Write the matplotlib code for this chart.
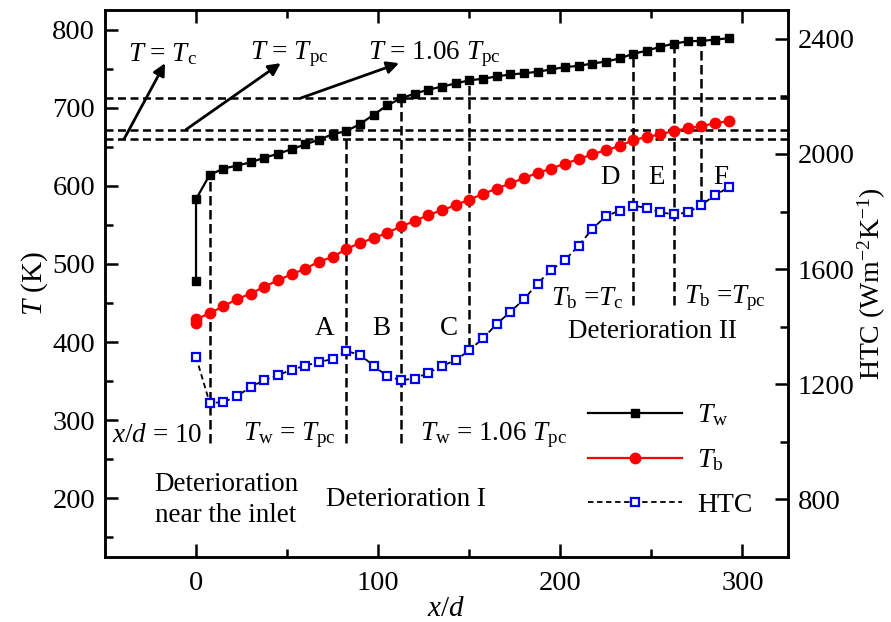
import matplotlib
matplotlib.use("Agg")
import matplotlib.pyplot as plt
from matplotlib.lines import Line2D

plt.rcParams['font.family'] = ['Liberation Serif', 'DejaVu Serif']
plt.rcParams['mathtext.fontset'] = 'custom'
plt.rcParams['mathtext.rm'] = 'Liberation Serif'
plt.rcParams['mathtext.it'] = 'Liberation Serif:italic'
plt.rcParams['mathtext.bf'] = 'Liberation Serif:bold'

# measuring positions (x/d)
xd = [0, 7.5, 15, 22.5, 30, 37.5, 45, 52.5, 60, 67.5, 75, 82.5, 90, 97.5, 105,
      112.5, 120, 127.5, 135, 142.5, 150, 157.5, 165, 172.5, 180, 187.5, 195,
      202.5, 210, 217.5, 225, 232.5, 240, 247.5, 255, 262.5, 270, 277.5, 285, 292.5]

# wall temperature (K), two readings at the inlet
tw_x = [0] + xd
tw = [478, 583, 614, 622, 626, 630, 636, 641, 647, 653, 659, 666, 670, 679, 691,
      703, 712, 718, 723, 727, 731, 735, 737, 740, 742.5, 744, 746, 749, 752,
      753.5, 756.5, 759, 763, 769, 773, 778, 782, 785, 785.5, 787, 789]

# bulk temperature (K)
tb_x = [0] + xd
tb = [425, 429, 437, 446, 455, 462, 471, 479, 487, 494, 503, 509, 519, 527, 533,
      540, 548, 555, 562.5, 569, 575, 582.5, 589.5, 596.5, 603, 610, 616.5, 622,
      628.5, 634, 640.5, 645.5, 651, 658.5, 662.5, 666, 670.5, 673.5, 676.5,
      680, 683]

# heat transfer coefficient (W m-2 K-1)
htc = [1295, 1135, 1138, 1158, 1191, 1214, 1231, 1251, 1264, 1278, 1287, 1315,
       1303, 1264, 1228, 1214, 1220, 1239, 1264, 1283, 1318, 1359, 1409, 1451,
       1495, 1550, 1597, 1631, 1681, 1739, 1784, 1803, 1820, 1813, 1797, 1790,
       1797, 1823, 1857, 1884]

# reference temperatures (K)
t_c = 660
t_pc = 672
t_106 = 1.06 * t_pc

# vertical marker lines: position, lower end (K); upper end is the wall temperature
vline_x = [7.5, 82.5, 112.5, 150, 240, 262.5, 277.5]
vline_bottom = [271, 271, 271, 394, 448, 448, 582]

fig = plt.figure(figsize=(8.91, 6.22), dpi=100)
ax = fig.add_axes([0.1178, 0.1045, 0.7666, 0.8794])
ax2 = ax.twinx()

dash = (0, (3.2, 1.8))
for yv in [t_c, t_pc, t_106]:
    ax.axhline(yv, color='k', lw=1.8, ls=dash, zorder=1)

for xv, yb in zip(vline_x, vline_bottom):
    top = tw[tw_x.index(xv, 1)]
    ax.plot([xv, xv], [yb, top], color='k', lw=1.8, ls=(0, (3.8, 1.8)), zorder=1)

ax.plot(tw_x, tw, color='k', lw=1.6, marker='s', ms=5.5, zorder=3)
ax.plot(tb_x, tb, color='red', lw=1.6, marker='o', ms=7.5, zorder=3)
ax2.plot(xd, htc, color='k', lw=1.3, ls=(0, (3, 2)), marker='s', ms=5.5,
         mfc='white', mec='blue', mew=1.6, zorder=3)

ax.set_xlim(-50, 325)
ax.set_ylim(125, 825)
ax2.set_ylim(600, 2500)
ax.set_xticks([0, 100, 200, 300])
ax.set_xticks([50, 150, 250], minor=True)
ax.set_yticks([200, 300, 400, 500, 600, 700, 800])
ax.set_yticks([150, 250, 350, 450, 550, 650, 750], minor=True)
ax2.set_yticks([800, 1200, 1600, 2000, 2400])
ax2.set_yticks([1000, 1400, 1800, 2200], minor=True)

fs_tick = 20.5
ax.tick_params(which='both', direction='in', width=1.8, labelsize=fs_tick,
               top=True, right=False)
ax.tick_params(axis='x', pad=10)
ax.tick_params(axis='y', pad=7)
ax.tick_params(which='major', length=9.5)
ax.tick_params(which='minor', length=5.5)
ax2.tick_params(which='both', direction='in', width=1.8, labelsize=fs_tick, pad=7)
ax2.tick_params(which='major', length=9.5)
ax2.tick_params(which='minor', length=5.5)
for a in (ax, ax2):
    for s in a.spines.values():
        s.set_linewidth(1.8)

ax.set_xlabel('$x/d$', fontsize=21, labelpad=0)
ax.set_ylabel('$T$ (K)', fontsize=21, labelpad=2)
ax2.set_ylabel('HTC (Wm$^{-2}$K$^{-1}$)', fontsize=20, labelpad=1)

fs = 19.5
arrow = dict(arrowstyle='-|>', color='k', lw=2, mutation_scale=18, shrinkA=0, shrinkB=0)
ax.text(-37.5, 768, '$T$ = $T_{\\rm c}$', fontsize=fs, va='center')
ax.text(29.5, 768, '$T$ = $T_{\\rm pc}$', fontsize=fs, va='center')
ax.text(94.5, 768, '$T$ = 1.06 $T_{\\rm pc}$', fontsize=fs, va='center')
ax.annotate('', xy=(-17, 757), xytext=(-39.5, t_c), arrowprops=arrow)
ax.annotate('', xy=(46.5, 757), xytext=(-5.5, t_pc), arrowprops=arrow)
ax.annotate('', xy=(111.5, 757), xytext=(57.5, t_106), arrowprops=arrow)

for lbl, xv, yv in [('A', 70.5, 418), ('B', 101.5, 418), ('C', 139, 418),
                    ('D', 227.5, 611), ('E', 253, 611), ('F', 288, 611)]:
    ax.text(xv, yv, lbl, fontsize=fs, ha='center', va='center')

ax.text(-21.5, 281, '$x/d$ = 10', fontsize=fs, ha='center', va='center')
ax.text(51.5, 281, '$T_{\\rm w}$ = $T_{\\rm pc}$', fontsize=fs, ha='center', va='center')
ax.text(163.5, 281, '$T_{\\rm w}$ = 1.06 $T_{\\rm pc}$', fontsize=fs, ha='center', va='center')
ax.text(16.5, 198, 'Deterioration\nnear the inlet', fontsize=fs, ha='center',
        va='center', linespacing=1.35)
ax.text(115.5, 198, 'Deterioration I', fontsize=fs, ha='center', va='center')
ax.text(215, 456, '$T_{\\rm b}$ =$T_{\\rm c}$', fontsize=fs, ha='center', va='center')
ax.text(290.5, 456, '$T_{\\rm b}$ =$T_{\\rm pc}$', fontsize=fs, ha='center', va='center')
ax.text(250.5, 413, 'Deterioration II', fontsize=fs, ha='center', va='center')

handles = [
    Line2D([], [], color='k', lw=1.6, marker='s', ms=5.5),
    Line2D([], [], color='red', lw=1.6, marker='o', ms=7.5),
    Line2D([], [], color='k', lw=1.3, ls=(0, (3, 2)), marker='s', ms=5.5,
           mfc='white', mec='blue', mew=1.6),
]
ax2.legend(handles, ['$T_{\\rm w}$', '$T_{\\rm b}$', 'HTC'], loc='center left',
           bbox_to_anchor=(0.67, 0.177), frameon=False, fontsize=20,
           handlelength=3.4, labelspacing=0.68, handletextpad=0.55)

fig.savefig('out.png', dpi=100)
